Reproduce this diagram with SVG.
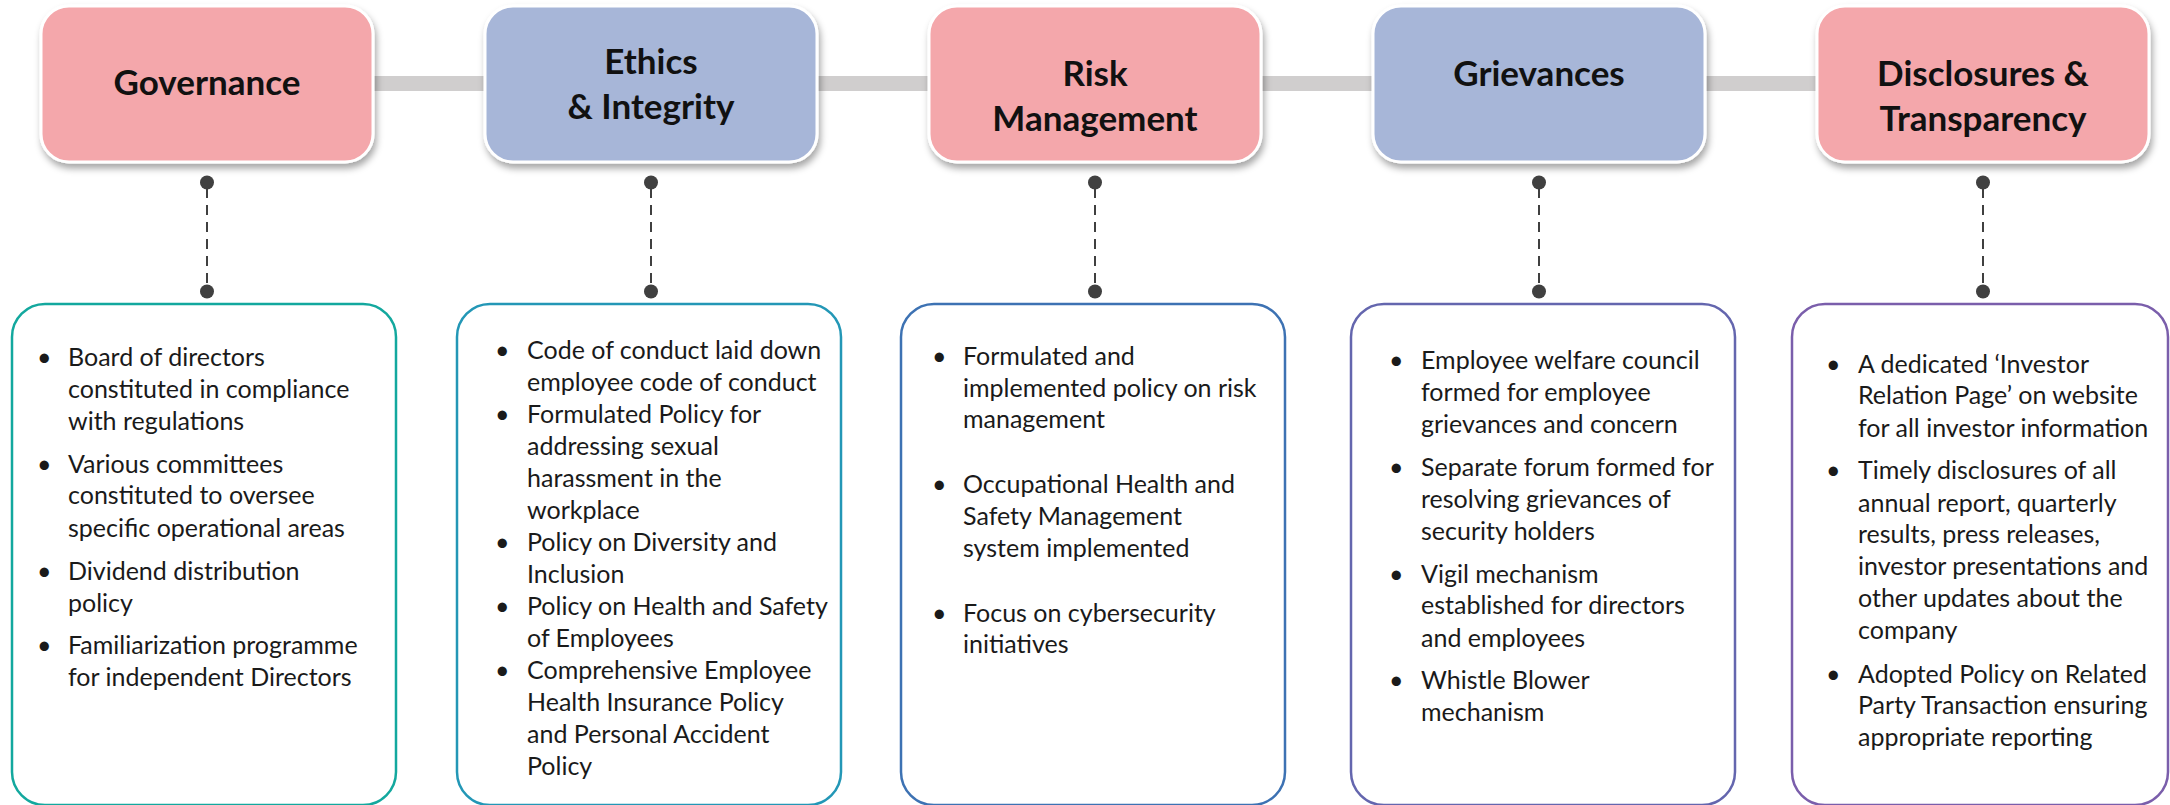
<svg xmlns="http://www.w3.org/2000/svg" width="2170" height="805" viewBox="0 0 2170 805">
<defs>
<filter id="sh" x="-10%" y="-10%" width="125%" height="130%">
<feDropShadow dx="2" dy="5" stdDeviation="3.5" flood-color="#000" flood-opacity="0.35"/>
</filter>
</defs>
<style>
.hdr{stroke:#fff;stroke-width:3;filter:url(#sh)}
.pink{fill:#f4a7ab}
.blue{fill:#a7b6d8}
.ht{font-family:Lato,"Liberation Sans",sans-serif;font-weight:bold;font-size:35px;fill:#111;text-anchor:middle}
.card{fill:#fff;stroke-width:2.5}
.bt{font-family:Lato,"Liberation Sans",sans-serif;font-size:25px;fill:#1a1a1a}
.dash{stroke:#404040;stroke-width:2;stroke-dasharray:10 7;fill:none}
.dot{fill:#404040}
.bar{fill:#d0cece}
</style>
<rect width="2170" height="805" fill="#fff"/>
<g id="connectors">
<rect class="bar" x="370" y="76" width="120" height="15"/>
<rect class="bar" x="814" y="76" width="120" height="15"/>
<rect class="bar" x="1258" y="76" width="120" height="15"/>
<rect class="bar" x="1702" y="76" width="120" height="15"/>
<line class="dash" x1="207" y1="188" x2="207" y2="286"/>
<circle class="dot" cx="207" cy="182.5" r="7"/><circle class="dot" cx="207" cy="291.5" r="7"/>
<line class="dash" x1="651" y1="188" x2="651" y2="286"/>
<circle class="dot" cx="651" cy="182.5" r="7"/><circle class="dot" cx="651" cy="291.5" r="7"/>
<line class="dash" x1="1095" y1="188" x2="1095" y2="286"/>
<circle class="dot" cx="1095" cy="182.5" r="7"/><circle class="dot" cx="1095" cy="291.5" r="7"/>
<line class="dash" x1="1539" y1="188" x2="1539" y2="286"/>
<circle class="dot" cx="1539" cy="182.5" r="7"/><circle class="dot" cx="1539" cy="291.5" r="7"/>
<line class="dash" x1="1983" y1="188" x2="1983" y2="286"/>
<circle class="dot" cx="1983" cy="182.5" r="7"/><circle class="dot" cx="1983" cy="291.5" r="7"/>
</g>
<g id="governance">
<rect class="hdr pink" x="41" y="6" width="332" height="156" rx="28"/>
<text class="ht" x="207" y="95">Governance</text>
</g>
<g id="ethics">
<rect class="hdr blue" x="485" y="6" width="332" height="156" rx="28"/>
<text class="ht" x="651" y="74">Ethics</text>
<text class="ht" x="651" y="119">&amp; Integrity</text>
</g>
<g id="risk">
<rect class="hdr pink" x="929" y="6" width="332" height="156" rx="28"/>
<text class="ht" x="1095" y="86">Risk</text>
<text class="ht" x="1095" y="131">Management</text>
</g>
<g id="grievances">
<rect class="hdr blue" x="1373" y="6" width="332" height="156" rx="28"/>
<text class="ht" x="1539" y="86">Grievances</text>
</g>
<g id="disclosures">
<rect class="hdr pink" x="1817" y="6" width="332" height="156" rx="28"/>
<text class="ht" x="1983" y="86">Disclosures &amp;</text>
<text class="ht" x="1983" y="131">Transparency</text>
</g>
<g id="governance-details">
<rect class="card" x="12" y="304" width="384" height="501" rx="33" stroke="#13a89e"/>
<text class="bt">
<tspan x="37" y="366">•</tspan><tspan x="68" y="366">Board of directors</tspan>
<tspan x="68" y="398">constituted in compliance</tspan>
<tspan x="68" y="430">with regulations</tspan>
<tspan x="37" y="473">•</tspan><tspan x="68" y="473">Various committees</tspan>
<tspan x="68" y="504">constituted to oversee</tspan>
<tspan x="68" y="537">specific operational areas</tspan>
<tspan x="37" y="580">•</tspan><tspan x="68" y="580">Dividend distribution</tspan>
<tspan x="68" y="612">policy</tspan>
<tspan x="37" y="654">•</tspan><tspan x="68" y="654">Familiarization programme</tspan>
<tspan x="68" y="686">for independent Directors</tspan>
</text>
</g>
<g id="ethics-details">
<rect class="card" x="457" y="304" width="384" height="501" rx="33" stroke="#2397b6"/>
<text class="bt">
<tspan x="495" y="359">•</tspan><tspan x="527" y="359">Code of conduct laid down</tspan>
<tspan x="527" y="391">employee code of conduct</tspan>
<tspan x="495" y="423">•</tspan><tspan x="527" y="423">Formulated Policy for</tspan>
<tspan x="527" y="455">addressing sexual</tspan>
<tspan x="527" y="487">harassment in the</tspan>
<tspan x="527" y="519">workplace</tspan>
<tspan x="495" y="551">•</tspan><tspan x="527" y="551">Policy on Diversity and</tspan>
<tspan x="527" y="583">Inclusion</tspan>
<tspan x="495" y="615">•</tspan><tspan x="527" y="615">Policy on Health and Safety</tspan>
<tspan x="527" y="647">of Employees</tspan>
<tspan x="495" y="679">•</tspan><tspan x="527" y="679">Comprehensive Employee</tspan>
<tspan x="527" y="711">Health Insurance Policy</tspan>
<tspan x="527" y="743">and Personal Accident</tspan>
<tspan x="527" y="775">Policy</tspan>
</text>
</g>
<g id="risk-details">
<rect class="card" x="901" y="304" width="384" height="501" rx="33" stroke="#3d72b3"/>
<text class="bt">
<tspan x="932" y="365">•</tspan><tspan x="963" y="365">Formulated and</tspan>
<tspan x="963" y="397">implemented policy on risk</tspan>
<tspan x="963" y="428">management</tspan>
<tspan x="932" y="493">•</tspan><tspan x="963" y="493">Occupational Health and</tspan>
<tspan x="963" y="525">Safety Management</tspan>
<tspan x="963" y="557">system implemented</tspan>
<tspan x="932" y="622">•</tspan><tspan x="963" y="622">Focus on cybersecurity</tspan>
<tspan x="963" y="653">initiatives</tspan>
</text>
</g>
<g id="grievances-details">
<rect class="card" x="1351" y="304" width="384" height="501" rx="33" stroke="#6466ae"/>
<text class="bt">
<tspan x="1389" y="369">•</tspan><tspan x="1421" y="369">Employee welfare council</tspan>
<tspan x="1421" y="401">formed for employee</tspan>
<tspan x="1421" y="433">grievances and concern</tspan>
<tspan x="1389" y="476">•</tspan><tspan x="1421" y="476">Separate forum formed for</tspan>
<tspan x="1421" y="508">resolving grievances of</tspan>
<tspan x="1421" y="540">security holders</tspan>
<tspan x="1389" y="583">•</tspan><tspan x="1421" y="583">Vigil mechanism</tspan>
<tspan x="1421" y="614">established for directors</tspan>
<tspan x="1421" y="647">and employees</tspan>
<tspan x="1389" y="689">•</tspan><tspan x="1421" y="689">Whistle Blower</tspan>
<tspan x="1421" y="721">mechanism</tspan>
</text>
</g>
<g id="disclosures-details">
<rect class="card" x="1792" y="304" width="376" height="501" rx="33" stroke="#7a5eab"/>
<text class="bt">
<tspan x="1826" y="373">•</tspan><tspan x="1858" y="373">A dedicated ‘Investor</tspan>
<tspan x="1858" y="404">Relation Page’ on website</tspan>
<tspan x="1858" y="437">for all investor information</tspan>
<tspan x="1826" y="479">•</tspan><tspan x="1858" y="479">Timely disclosures of all</tspan>
<tspan x="1858" y="512">annual report, quarterly</tspan>
<tspan x="1858" y="543">results, press releases,</tspan>
<tspan x="1858" y="575">investor presentations and</tspan>
<tspan x="1858" y="607">other updates about the</tspan>
<tspan x="1858" y="639">company</tspan>
<tspan x="1826" y="683">•</tspan><tspan x="1858" y="683">Adopted Policy on Related</tspan>
<tspan x="1858" y="714">Party Transaction ensuring</tspan>
<tspan x="1858" y="746">appropriate reporting</tspan>
</text>
</g>
</svg>
